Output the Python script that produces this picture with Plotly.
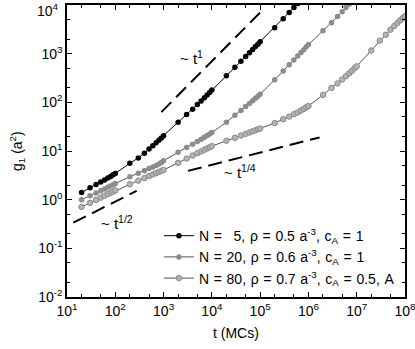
import plotly.graph_objects as go

# sample times (MCs)
t = [20, 30, 40, 50, 60, 70, 80, 90, 100,
     200, 300, 400, 500, 600, 700, 800, 900, 1e3,
     2e3, 3e3, 4e3, 5e3, 6e3, 7e3, 8e3, 9e3, 1e4,
     2e4, 3e4, 4e4, 5e4, 6e4, 7e4, 8e4, 9e4, 1e5,
     2e5, 3e5, 4e5, 5e5, 6e5, 7e5, 8e5, 9e5, 1e6,
     2e6, 3e6, 4e6, 5e6, 6e6, 7e6, 8e6, 9e6, 1e7,
     2e7, 3e7, 4e7, 5e7, 6e7, 7e7, 8e7, 9e7, 1e8]

# g1 (a^2), N = 5
g_n5 = [1.4, 1.75, 2.05, 2.3, 2.55, 2.8, 3.0, 3.25, 3.45,
        5.6, 7.2, 9.0, 11.0, 12.8, 14.7, 16.6, 18.6, 20.5,
        39, 56, 72, 90, 107, 124, 141, 160, 180,
        350, 525, 700, 875, 1050, 1220, 1400, 1570, 1750,
        3400, 5200, 7000, 8900, 10700]

# N = 20
g_n20 = [1.0, 1.2, 1.37, 1.52, 1.66, 1.8, 1.92, 2.03, 2.15,
         2.95, 3.5, 3.95, 4.35, 4.7, 5.05, 5.4, 5.8, 6.3,
         9.4, 11.8, 13.8, 15.7, 17.5, 19.2, 20.8, 22.4, 24,
         39, 54, 68, 82, 95, 108, 121, 134, 147,
         290, 440, 590, 740, 900, 1060, 1210, 1380, 1540,
         2950, 4300, 5800, 7300, 8900, 10400]

# N = 80
g_n80 = [0.71, 0.86, 0.99, 1.1, 1.2, 1.3, 1.38, 1.46, 1.55,
         2.07, 2.46, 2.77, 3.05, 3.29, 3.51, 3.71, 3.9, 4.08,
         5.73, 6.99, 8.05, 8.98, 9.81, 10.58, 11.3, 11.95, 12.6,
         16.2, 18.7, 20.8, 22.5, 24.0, 25.4, 26.6, 27.8, 28.9,
         37.5, 45, 51, 57, 62, 68, 73, 79, 84,
         142, 198, 245, 295, 345, 395, 445, 500, 550,
         1160, 1850, 2450, 3100, 3700, 4300, 4900, 5400, 5900]

# guide lines (power laws)
guide_t1 = ([900, 1.1e5], [63, 7700])
guide_half = ([13.5, 277], [0.336, 1.52])
guide_quarter = ([3200, 1.7e6], [3.9, 19])

x_ticks = [1e1, 1e2, 1e3, 1e4, 1e5, 1e6, 1e7, 1e8]
x_labels = ["10<sup>1</sup>", "10<sup>2</sup>", "10<sup>3</sup>", "10<sup>4</sup>",
            "10<sup>5</sup>", "10<sup>6</sup>", "10<sup>7</sup>", "10<sup>8</sup>"]
y_ticks = [1e-2, 1e-1, 1e0, 1e1, 1e2, 1e3, 1e4]
# the top label is placed separately (nudged down, as in the original)
y_labels = ["10<sup>-2</sup>", "10<sup>-1</sup>", "10<sup>0</sup>", "10<sup>1</sup>",
            "10<sup>2</sup>", "10<sup>3</sup>", ""]
y_top_label = "10<sup>4</sup>"

sp = "\u2004"
names = ["N" + sp + "=" + sp + "\u2002" + "5," + sp + "\u03c1" + sp + "=" + sp + "0.5" + sp
         + "a<sup>-3</sup>," + sp + "c<sub>A</sub>" + sp + "=" + sp + "1",
         "N" + sp + "=" + sp + "20," + sp + "\u03c1" + sp + "=" + sp + "0.6" + sp
         + "a<sup>-3</sup>," + sp + "c<sub>A</sub>" + sp + "=" + sp + "1",
         "N" + sp + "=" + sp + "80," + sp + "\u03c1" + sp + "=" + sp + "0.7" + sp
         + "a<sup>-3</sup>," + sp + "c<sub>A</sub>" + sp + "=" + sp + "0.5," + sp + "A"]

fig = go.Figure()

for xs, ys in [guide_t1, guide_half, guide_quarter]:
    fig.add_trace(go.Scatter(x=xs, y=ys, mode="lines", showlegend=False,
                             line=dict(color="black", width=2, dash="14px,7px")))

fig.add_trace(go.Scatter(x=t[:len(g_n5)], y=g_n5, mode="lines+markers", name=names[0],
                         line=dict(color="black", width=1),
                         marker=dict(color="black", size=5.5)))
fig.add_trace(go.Scatter(x=t[:len(g_n20)], y=g_n20, mode="lines+markers", name=names[1],
                         line=dict(color="#555555", width=1),
                         marker=dict(color="#8c8c8c", size=5.5)))
fig.add_trace(go.Scatter(x=t[:len(g_n80)], y=g_n80, mode="lines+markers", name=names[2],
                         line=dict(color="#555555", width=1),
                         marker=dict(color="#b4b4b4", size=5.5,
                                     line=dict(color="#8a8a8a", width=1))))

ax = dict(type="log", showline=True, linecolor="black", automargin=False,
          linewidth=1.5, mirror="ticks", ticks="inside", ticklen=5, tickcolor="black",
          showgrid=False, zeroline=False, ticklabeloverflow="allow",
          minor=dict(ticks="inside", ticklen=3, tickcolor="black", showgrid=False),
          tickfont=dict(size=14, color="black"))

fig.update_xaxes(ax, range=[1, 8], tickvals=x_ticks, ticktext=x_labels)
fig.update_yaxes(ax, range=[-2, 4], tickvals=y_ticks, ticktext=y_labels)

fig.add_annotation(x=-0.018, y=0.982, xref="paper", yref="paper", text=y_top_label,
                   xanchor="right", yanchor="middle", showarrow=False,
                   font=dict(size=14, color="black"))

# axis titles
fig.add_annotation(x=0.5, y=-0.123, xref="paper", yref="paper", text="t (MCs)",
                   xanchor="center", yanchor="middle",
                   showarrow=False, font=dict(size=14, color="black"))
fig.add_annotation(x=-0.148, y=0.5, xref="paper", yref="paper",
                   text="g<sub>1</sub> (a<sup>2</sup>)", textangle=-90,
                   xanchor="center", yanchor="middle",
                   showarrow=False, font=dict(size=14, color="black"))

# power-law labels
fig.add_annotation(x=3.57, y=2.93, xref="x", yref="y", text="~ t<sup>1</sup>", showarrow=False,
                   font=dict(size=15, color="black"))
fig.add_annotation(x=2.04, y=-0.46, xref="x", yref="y", text="~ t<sup>1/2</sup>", showarrow=False,
                   font=dict(size=15, color="black"))
fig.add_annotation(x=4.58, y=0.57, xref="x", yref="y", text="~ t<sup>1/4</sup>", showarrow=False,
                   font=dict(size=15, color="black"))

fig.update_layout(width=415, height=349, margin=dict(l=67, r=10, t=5, b=52),
                  plot_bgcolor="white", paper_bgcolor="white",
                  font=dict(family="Liberation Sans, Arial", size=14, color="black"),
                  legend=dict(x=0.985, y=0.01, xanchor="right", yanchor="bottom",
                              bgcolor="rgba(0,0,0,0)", font=dict(size=14), tracegroupgap=0))

# drop the default page margin so the figure sits at the window's corner
fig.write_html("out.html", config={"displayModeBar": False},
               post_script="document.body.style.margin='0';")
